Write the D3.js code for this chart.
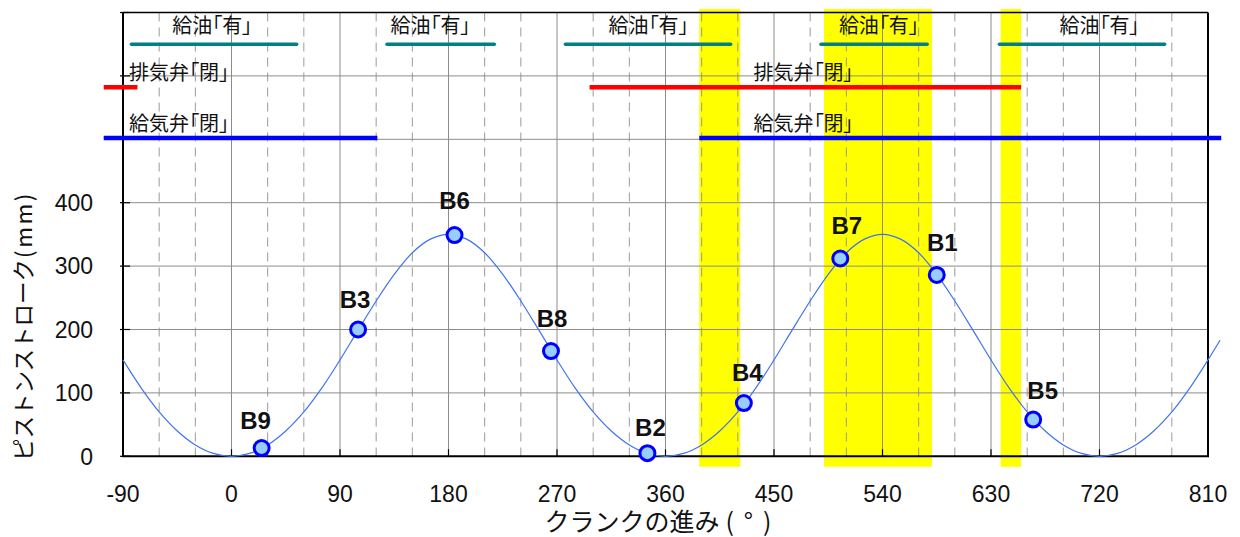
<!DOCTYPE html>
<html>
<head>
<meta charset="utf-8">
<script src="https://cdn.jsdelivr.net/npm/d3@7"></script>
<style>
  body { margin: 0; background: #fff; }
  svg { display: block; }
  .jp { font-family: "Noto Sans CJK JP", "Noto Sans", sans-serif; fill: #111; }
  .tag { font-feature-settings: "palt"; }
  .num { font-family: "Liberation Sans", Arial, sans-serif; fill: #111; }
</style>
</head>
<body>
<svg id="chart" width="1240" height="537"></svg>
<script>
// Piston stroke (mm) against crank advance (deg)
const crankAngles = [
  -90, -75, -60, -45, -30, -15,
  0, 15, 30, 45, 60, 75, 90, 105, 120, 135, 150, 165,
  180, 195, 210, 225, 240, 255, 270, 285, 300, 315, 330, 345,
  360, 375, 390, 405, 420, 435, 450, 465, 480, 495, 510, 525,
  540, 555, 570, 585, 600, 615, 630, 645, 660, 675, 690, 705,
  720, 735, 750, 765, 780, 795, 810, 820
];
const pistonStroke = [
  152, 108, 70, 40, 18, 4.5,
  0, 4.5, 18, 40, 70, 108, 152, 199, 245, 287, 321, 342.5,
  350, 342.5, 321, 287, 245, 199, 152, 108, 70, 40, 18, 4.5,
  0, 4.5, 18, 40, 70, 108, 152, 199, 245, 287, 321, 342.5,
  350, 342.5, 321, 287, 245, 199, 152, 108, 70, 40, 18, 4.5,
  0, 4.5, 18, 40, 70, 108, 152, 183
];

// Cylinder positions on the stroke curve
const cylinderNames  = ["B9", "B3", "B6", "B8", "B2", "B4", "B7", "B1", "B5"];
const cylinderAngles = [25, 105, 185, 265, 345, 425, 505, 585, 665];
const cylinderStroke = [13, 200, 349, 166, 5, 84, 312, 286, 58];

// Axis ticks
const xTicks = [-90, 0, 90, 180, 270, 360, 450, 540, 630, 720, 810];
const yTicks = [0, 100, 200, 300, 400];
const yGrid  = [100, 200, 300, 400, 500, 600];

// Highlighted crank ranges
const bandStart = [388, 491.5, 638];
const bandEnd   = [422, 581, 655];

// Fuel injection "on" intervals
const fuelStart = [-83, 129, 277, 489, 637];
const fuelEnd   = [54, 218, 414, 577, 774];
const fuelLabelAt = [-16, 165, 346, 537, 720];
const fuelText = "給油「有」";

// Exhaust valve / intake valve "closed" intervals
const exhaustStart = [-106, 297];
const exhaustEnd   = [-78, 655];
const intakeStart  = [-106, 388];
const intakeEnd    = [121, 821];
const valveLabelAt = [-85, 433];
const exhaustText = "排気弁「閉」";
const intakeText  = "給気弁「閉」";

// Row levels of the timing bars, in stroke units
const fuelLevel = 650, exhaustLevel = 582, intakeLevel = 502;

// ---------------------------------------------------------------
const svg = d3.select("#chart");
const L = 123, R = 1208, T = 12.5, B = 456.3;
const x = d3.scaleLinear().domain([-90, 810]).range([L, R]);
const y = d3.scaleLinear().domain([0, 700]).range([B, T]);

// label nudges (px) for cylinder tags
const tagNudge = {
  B9: [-6, -19], B3: [-3, -22], B6: [0, -26], B8: [1, -24], B2: [3, -17],
  B4: [3.5, -22], B7: [6.5, -24], B1: [5.5, -24], B5: [9.5, -21]
};

// highlighted bands
svg.append("g").selectAll("rect")
  .data(d3.range(bandStart.length))
  .join("rect")
  .attr("x", i => x(bandStart[i]))
  .attr("width", i => x(bandEnd[i]) - x(bandStart[i]))
  .attr("y", T - 3.5)
  .attr("height", (B + 10.5) - (T - 3.5))
  .attr("fill", "#ffff00");

// grid
const grid = svg.append("g");
const solidX = d3.range(0, 721, 90);
const dashedX = d3.range(-60, 781, 30).filter(v => v % 90 !== 0);
grid.selectAll(".vs").data(solidX).join("line")
  .attr("x1", d => x(d)).attr("x2", d => x(d))
  .attr("y1", T).attr("y2", B)
  .attr("stroke", "#8c8c8c").attr("stroke-width", 1);
grid.selectAll(".vd").data(dashedX).join("line")
  .attr("x1", d => x(d)).attr("x2", d => x(d))
  .attr("y1", T).attr("y2", B)
  .attr("stroke", "#9a9a9a").attr("stroke-width", 1)
  .attr("stroke-dasharray", "9,6");
grid.selectAll(".h").data(yGrid).join("line")
  .attr("x1", L).attr("x2", R)
  .attr("y1", d => y(d)).attr("y2", d => y(d))
  .attr("stroke", "#8c8c8c").attr("stroke-width", 1);

// frame and axes
svg.append("line").attr("x1", L).attr("x2", R).attr("y1", T).attr("y2", T)
  .attr("stroke", "#000").attr("stroke-width", 1.5);
svg.append("line").attr("x1", R).attr("x2", R).attr("y1", T).attr("y2", B)
  .attr("stroke", "#000").attr("stroke-width", 2);
svg.append("line").attr("x1", L).attr("x2", L).attr("y1", T).attr("y2", B)
  .attr("stroke", "#000").attr("stroke-width", 2);
svg.append("line").attr("x1", L - 1).attr("x2", R + 1).attr("y1", B).attr("y2", B)
  .attr("stroke", "#000").attr("stroke-width", 2);

// inner ticks
svg.append("g").selectAll("line").data(d3.range(0, 701, 100)).join("line")
  .attr("x1", L - 3).attr("x2", L + 7)
  .attr("y1", d => y(d)).attr("y2", d => y(d))
  .attr("stroke", "#000").attr("stroke-width", 1.2);
svg.append("g").selectAll("line").data(xTicks).join("line")
  .attr("x1", d => x(d)).attr("x2", d => x(d))
  .attr("y1", B).attr("y2", B - 7)
  .attr("stroke", "#000").attr("stroke-width", 1.2);

// timing bars
function bars(starts, ends, level, color, width, cap) {
  svg.append("g").selectAll("line").data(d3.range(starts.length)).join("line")
    .attr("x1", i => x(starts[i])).attr("x2", i => x(ends[i]))
    .attr("y1", y(level)).attr("y2", y(level))
    .attr("stroke", color).attr("stroke-width", width)
    .attr("stroke-linecap", cap);
}
bars(fuelStart, fuelEnd, fuelLevel, "#008080", 3.5, "round");
bars(exhaustStart, exhaustEnd, exhaustLevel, "#ff0000", 4.5, "butt");
bars(intakeStart, intakeEnd, intakeLevel, "#0000ff", 4.5, "butt");

svg.append("g").selectAll("text").data(fuelLabelAt).join("text")
  .attr("class", "jp tag")
  .attr("x", d => x(d)).attr("y", y(fuelLevel) - 11.2)
  .attr("text-anchor", "middle").attr("font-size", 20)
  .text(fuelText);
svg.append("g").selectAll("text").data(valveLabelAt).join("text")
  .attr("class", "jp tag")
  .attr("x", d => x(d)).attr("y", y(exhaustLevel) - 7.5)
  .attr("font-size", 20)
  .text(exhaustText);
svg.append("g").selectAll("text").data(valveLabelAt).join("text")
  .attr("class", "jp tag")
  .attr("x", d => x(d)).attr("y", y(intakeLevel) - 7.5)
  .attr("font-size", 20)
  .text(intakeText);

// stroke curve
const line = d3.line()
  .x((d, i) => x(crankAngles[i]))
  .y(d => y(d))
  .curve(d3.curveCatmullRom.alpha(0.5));
svg.append("path").datum(pistonStroke)
  .attr("d", line)
  .attr("fill", "none")
  .attr("stroke", "#3f74f0")
  .attr("stroke-width", 1.2);

// cylinder markers
const cyl = svg.append("g").selectAll("g").data(d3.range(cylinderNames.length)).join("g");
cyl.append("circle")
  .attr("cx", i => x(cylinderAngles[i]))
  .attr("cy", i => y(cylinderStroke[i]))
  .attr("r", 7.5)
  .attr("fill", "#99ccff")
  .attr("stroke", "#0000ff")
  .attr("stroke-width", 3);
cyl.append("text")
  .attr("class", "num")
  .attr("x", i => x(cylinderAngles[i]) + tagNudge[cylinderNames[i]][0])
  .attr("y", i => y(cylinderStroke[i]) + tagNudge[cylinderNames[i]][1])
  .attr("text-anchor", "middle")
  .attr("font-size", 24).attr("font-weight", "bold")
  .text(i => cylinderNames[i]);

// tick labels
svg.append("g").selectAll("text").data(yTicks).join("text")
  .attr("class", "num")
  .attr("x", 93).attr("y", d => y(d) + 8.3)
  .attr("text-anchor", "end").attr("font-size", 23)
  .text(d => d);
svg.append("g").selectAll("text").data(xTicks).join("text")
  .attr("class", "num")
  .attr("x", d => x(d)).attr("y", 502)
  .attr("text-anchor", "middle").attr("font-size", 23)
  .text(d => d);

// axis titles
const yTitle = svg.append("text").attr("class", "jp")
  .attr("transform", "translate(32,326) rotate(-90)")
  .attr("text-anchor", "middle").attr("font-size", 22.5);
yTitle.append("tspan").text("ピストンストローク");
yTitle.append("tspan").attr("dx", 1).attr("letter-spacing", 2.5).text("(mm)");

const xTitle = svg.append("text").attr("class", "jp")
  .attr("x", 663).attr("y", 531)
  .attr("text-anchor", "middle").attr("font-size", 25);
xTitle.append("tspan").text("クランクの進み");
xTitle.append("tspan").attr("dx", 6).attr("letter-spacing", 10).text("(°)");
</script>
</body>
</html>
